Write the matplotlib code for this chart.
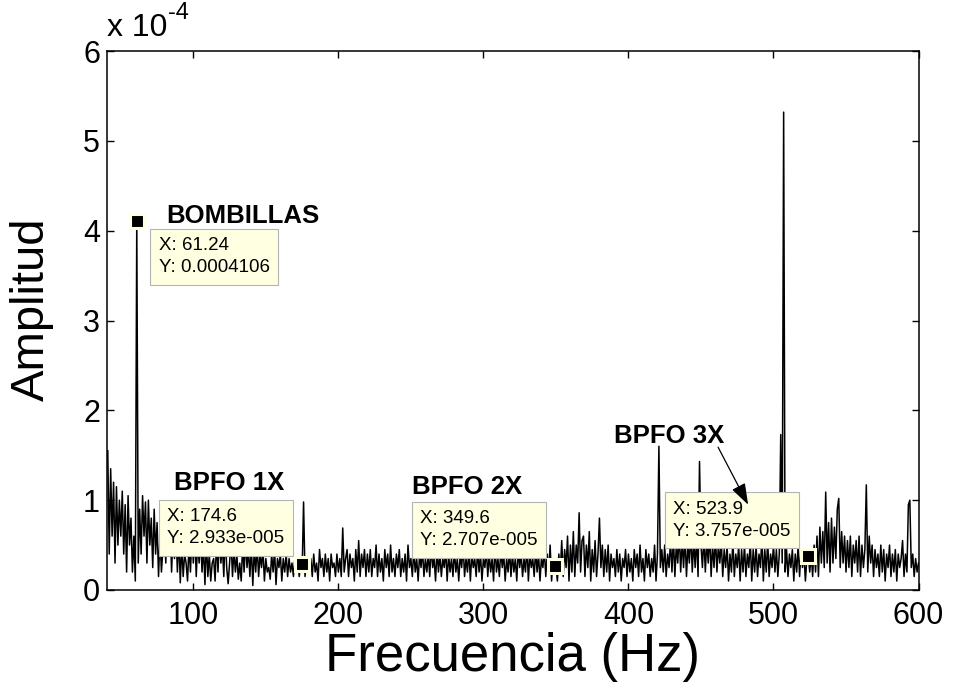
import matplotlib
matplotlib.use("Agg")
import matplotlib.pyplot as plt
import numpy as np

plt.rcParams['font.family'] = ['Liberation Sans', 'DejaVu Sans']

# amplitude spectrum, 1 Hz steps from 41 Hz, values in units of 1e-5
FREQ_START = 41
amp_041_060 = [15.5, 4, 13.5, 6, 12, 3, 11.5, 5, 10, 6, 11, 4, 9.5, 2, 10.5, 5, 8, 2, 6, 1]
amp_061_080 = [41.06, 3, 9, 4, 10.5, 6, 9.8, 3, 10, 5, 8, 2.5, 9, 4, 7.5, 1.5, 6, 2, 4.5, 7]
amp_081_100 = [3, 8, 4, 7.5, 2, 6.5, 3.5, 7, 2, 6, 0.8, 5, 1.5, 4, 3, 1, 5, 2, 6, 3]
amp_101_120 = [6.5, 1.5, 5.5, 3, 6, 2, 5, 0.6, 5.5, 1.5, 4, 1, 3, 3.5, 1, 5.5, 2, 6, 3, 5]
amp_121_140 = [1.5, 6.5, 2.5, 0.7, 3, 5.5, 1.5, 4.5, 2, 4, 1.2, 3, 1, 5, 2, 5.5, 2.5, 4.5, 1.5, 5]
amp_141_160 = [0.5, 4.5, 2, 5, 1.5, 4, 2.5, 4.5, 1, 3.5, 2, 2.5, 1.2, 4, 2, 4.5, 0.6, 3.5, 2.5, 4]
amp_161_180 = [1, 3.5, 2, 4, 1.5, 3.5, 2, 3, 1.5, 3.5, 2, 3.5, 1.5, 2.9, 2, 9.8, 1.5, 3, 3.5, 2]
amp_181_200 = [3.5, 1.5, 4, 2, 3, 1, 4.5, 2.5, 3.5, 1.5, 4, 2, 3.5, 1, 4, 2.5, 3, 1.5, 4, 2]
amp_201_220 = [3.5, 1.5, 6.9, 2, 3.5, 4.5, 1.5, 4, 2.5, 3.5, 1, 4.5, 2, 5.5, 1.5, 4, 2.5, 4.5, 1.5, 4]
amp_221_240 = [2, 4.5, 1.5, 3.5, 2.5, 5, 1.5, 4, 2, 3.5, 1, 4.5, 2.5, 4, 1.5, 5, 2, 3.5, 1.5, 4]
amp_241_260 = [2.5, 4.5, 1.5, 3.5, 2, 4, 1, 5, 2.5, 3.5, 1.5, 4.5, 2, 3.5, 1, 4, 2.5, 4.5, 1.5, 3.5]
amp_261_280 = [2, 4, 1.5, 5, 2.5, 3.5, 1, 4.5, 2, 4, 1.5, 3.5, 2.5, 4.5, 1, 4, 2, 3.5, 1.5, 4.5]
amp_281_300 = [2, 3.5, 1, 4, 2.5, 5, 1.5, 3.5, 2, 4.5, 1, 4, 2.5, 3.5, 1.5, 4.5, 2, 4, 1, 3.5]
amp_301_320 = [2.5, 4.5, 1.5, 4, 2, 3.5, 1, 5, 2, 3.5, 1.5, 4.5, 2.5, 4, 1, 3.5, 2, 4.5, 1.5, 4]
amp_321_340 = [2, 3.5, 1, 4.5, 2.5, 4, 1.5, 3.5, 2, 5, 1, 4, 2.5, 3.5, 1.5, 4.5, 2, 4, 1, 3.5]
amp_341_360 = [2.5, 4.5, 1.5, 4, 2, 5, 1, 3.5, 2.5, 2.7, 1, 4, 2, 5.5, 1.5, 4.5, 2.5, 6, 1, 5]
amp_361_380 = [2, 6.5, 1.5, 5, 3, 8.6, 2, 5.5, 6, 1.5, 5, 2.5, 6.5, 1, 4.5, 2, 5.5, 1.5, 4, 8]
amp_381_400 = [2.5, 5, 1.5, 4.5, 2, 5, 1, 4, 2.5, 3.5, 1.5, 4.5, 2, 4, 1, 3.5, 2.5, 4.5, 1.5, 4]
amp_401_420 = [2, 3.5, 1, 4.5, 2.5, 4, 1.5, 5, 2, 3.5, 1, 4.5, 2.5, 4, 1.5, 3.5, 2, 5, 1, 4]
amp_421_440 = [16, 2.5, 4.5, 2, 5, 1.5, 4, 2.5, 5.5, 2, 6, 1.5, 5, 3, 6.5, 2, 5.5, 2.5, 6, 1.5]
amp_441_460 = [5, 3, 6.5, 2, 5.5, 2.5, 6, 1.5, 14.3, 5, 2.5, 6, 2, 5.5, 3, 6.5, 1.5, 5, 2.5, 6]
amp_461_480 = [2, 5, 3, 5.5, 1.5, 4.5, 2.5, 5, 1, 4, 2, 5.5, 1.5, 4, 2.5, 5, 1, 4.5, 2, 5]
amp_481_500 = [1.5, 4, 2.5, 5.5, 1, 4.5, 2, 5, 1.5, 4, 2.5, 6, 1, 4.5, 2, 5.5, 1.5, 4, 2.5, 5]
amp_501_520 = [2, 4.5, 1.5, 4, 17.3, 3, 53.2, 2, 4.5, 1.5, 4, 2.5, 4.5, 1, 4, 2, 5, 1.5, 4.5, 2.5]
amp_521_540 = [4, 1, 3.5, 3.76, 2, 4, 1.5, 5, 2, 6, 1.5, 7, 3, 6.5, 2.5, 10.9, 3, 7.5, 2, 8]
amp_541_560 = [3, 7, 3.5, 9, 10.2, 2.5, 6.5, 3, 6, 2, 5.5, 2.5, 6, 1.5, 5, 3, 5.5, 2, 6, 1.5]
amp_561_580 = [5, 2.5, 4.5, 11.7, 2, 6, 3, 5, 1.5, 4.5, 2.5, 4, 1.5, 5, 2, 4.5, 1, 4, 2.5, 5]
amp_581_600 = [1.5, 4, 2, 4.5, 1, 4, 2.5, 3.5, 5.5, 1.5, 4, 2, 9.5, 10, 2.5, 4, 1.5, 3.5, 2, 3]

# data tips placed on the figure
tip_x = [61.24, 174.6, 349.6, 523.9]
tip_y = [0.0004106, 2.933e-05, 2.707e-05, 3.757e-05]
tip_text = ["X: 61.24\nY: 0.0004106", "X: 174.6\nY: 2.933e-005",
            "X: 349.6\nY: 2.707e-005", "X: 523.9\nY: 3.757e-005"]

labels = ["BOMBILLAS", "BPFO 1X", "BPFO 2X", "BPFO 3X"]
label_pos = [(134, 4.16e-4), (125, 1.19e-4), (289, 1.15e-4), (428, 1.71e-4)]

xticks = [100, 200, 300, 400, 500, 600]
yticks = [0, 1, 2, 3, 4, 5, 6]


def main():
    amp = np.concatenate([amp_041_060, amp_061_080, amp_081_100, amp_101_120, amp_121_140,
                          amp_141_160, amp_161_180, amp_181_200, amp_201_220, amp_221_240,
                          amp_241_260, amp_261_280, amp_281_300, amp_301_320, amp_321_340,
                          amp_341_360, amp_361_380, amp_381_400, amp_401_420, amp_421_440,
                          amp_441_460, amp_461_480, amp_481_500, amp_501_520, amp_521_540,
                          amp_541_560, amp_561_580, amp_581_600]) * 1e-5
    freq = FREQ_START + np.arange(len(amp))

    fig = plt.figure(figsize=(9.6, 6.85), dpi=100)
    ax = fig.add_axes([0.1115, 0.1387, 0.8453, 0.7868])

    ax.plot(freq, amp, color='black', lw=1.1, zorder=2)
    ax.set_xlim(40.5, 600)
    ax.set_ylim(0, 6e-4)

    ax.set_xticks(xticks)
    ax.set_xticklabels([str(t) for t in xticks])
    ax.set_yticks(np.array(yticks) * 1e-4)
    ax.set_yticklabels([str(t) for t in yticks])
    ax.tick_params(direction='in', top=True, right=True, length=5, width=1,
                   labelsize=22)
    ax.tick_params(axis='x', pad=8)
    ax.tick_params(axis='y', pad=5)
    for s in ax.spines.values():
        s.set_linewidth(1.1)

    # MATLAB style exponent above the y axis
    ax.text(0.0, 1.014, 'x 10', transform=ax.transAxes,
            fontsize=23, ha='left', va='bottom')
    ax.text(0.075, 1.05, '-4', transform=ax.transAxes,
            fontsize=17, ha='left', va='bottom')

    ax.set_xlabel('Frecuencia (Hz)', fontsize=38)
    ax.xaxis.set_label_coords(0.5, -0.124)
    ax.xaxis.label.set_va('center')
    ax.set_ylabel('Amplitud', fontsize=34)
    ax.yaxis.set_label_coords(-0.092, 0.52)
    ax.yaxis.label.set_va('center')

    # data tip markers and boxes
    box = dict(boxstyle='square,pad=0.45', facecolor='#ffffe1', edgecolor='#b4b4b4', lw=0.8)
    for i in range(len(tip_x)):
        ax.plot(tip_x[i], tip_y[i], 's', color='black', markersize=10,
                markeredgecolor='#ffffe1', markeredgewidth=2.2, zorder=6)
        if i == 0:
            off, ha, va = (15.4, -11.5), 'left', 'top'
        else:
            off, ha, va = (-12.5, 11.8), 'right', 'bottom'
        ax.annotate(tip_text[i], (tip_x[i], tip_y[i]), xytext=off, textcoords='offset points',
                    ha=ha, va=va, multialignment='left', fontsize=13.5,
                    linespacing=1.38, bbox=box, zorder=5)

    for lab, pos in zip(labels, label_pos):
        ax.text(pos[0], pos[1], lab, fontsize=18.5, fontweight='bold',
                ha='center', va='center', zorder=5)

    # arrow pointing at third harmonic box
    ax.annotate('', xy=(482.5, 0.95e-4), xytext=(461.8, 1.59e-4),
                arrowprops=dict(arrowstyle='-|>,head_length=1.3,head_width=0.45',
                                color='black', lw=0.9, shrinkA=0, shrinkB=0),
                zorder=7)

    fig.savefig('out.png', dpi=100)


if __name__ == '__main__':
    main()
